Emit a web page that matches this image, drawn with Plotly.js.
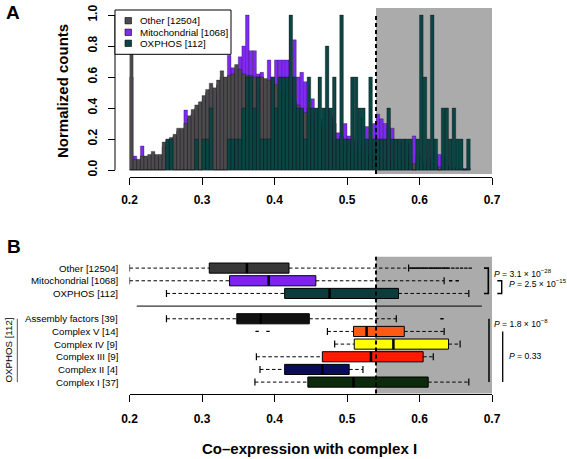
<!DOCTYPE html>
<html><head><meta charset="utf-8">
<script src="https://cdn.plot.ly/plotly-3.0.1.min.js"></script>
<style>html,body{margin:0;padding:0;background:#fff}#chart{width:567px;height:459px}</style>
</head><body><div id="chart"></div>
<script>
// ---------- Panel A data (normalized histogram counts, bins of 0.005 from 0.20) ----------
const binStart = 0.20, binWidth = 0.005;
const histNames = ['Other [12504]', 'Mitochondrial [1068]', 'OXPHOS [112]'];
const histColors = ['#4b4b4b', '#7f2af0', '#0d4444'];
const otherCounts = [1.00,0.07,0.07,0.09,0.09,0.10,0.12,0.10,0.10,0.18,
 0.19,0.21,0.23,0.27,0.27,0.30,0.35,0.39,0.42,0.44,
 0.48,0.52,0.56,0.53,0.58,0.64,0.60,0.61,0.62,0.68,
 0.65,0.62,0.61,0.61,0.60,0.60,0.60,0.59,0.58,0.57,
 0.55,0.53,0.50,0.49,0.46,0.44,0.42,0.39,0.37,0.35,
 0.31,0.29,0.27,0.26,0.24,0.22,0.20,0.19,0.17,0.15,
 0.15,0.13,0.12,0.11,0.10,0.10,0.09,0.08,0.08,0.07,
 0.07,0.06,0.06,0.05,0.05,0.05,0.04,0.04,0.04,0.03,
 0.03,0.03,0.02,0.02,0.02,0.02,0.01,0.01,0.01,0.01,
 0.01,0.005,0.005,0.003];
const mitoCounts = [0.60,0.09,0.05,0.155,0.07,0.08,0.10,0.09,0.08,0.15,
 0.16,0.20,0.22,0.25,0.26,0.387,0.33,0.36,0.40,0.42,
 0.45,0.50,0.52,0.50,0.55,0.60,0.58,0.74,0.66,0.65,
 0.73,0.80,1.00,0.77,0.77,0.62,0.63,0.57,0.71,0.60,
 0.71,0.71,0.71,0.71,0.60,0.84,0.60,0.63,0.57,0.40,
 0.46,0.38,0.30,0.33,0.40,0.35,0.30,0.24,0.22,0.30,
 0.22,0.20,0.18,0.34,0.19,0.28,0.16,0.30,0.36,0.33,
 0.30,0.27,0.27,0.19,0.19,0.18,0.17,0.10,0.22,0.10,
 0.05,0.05,0.08,0.04,0.04,0.10,0.09,0.03,0.02,0.02,
 0.01,0.01,0.01,0.01];
const oxphosCounts = [0,0,0,0,0,0,0,0,0,0,
 0.2,0.2,0,0,0,0,0,0,0.2,0,
 0.2,0.2,0.4,0,0,0,0,0.2,0.2,0.2,
 0.2,0.4,0.6,0.6,0.4,0.6,0.2,0.2,0.2,0.6,
 0.4,0.6,0.6,0.6,1.0,0.6,0.4,0.4,0.2,0.6,
 0.4,0.4,0.6,0.4,0.8,0.4,0.6,0.2,1.0,0.2,
 0.2,0.6,0.6,0.4,0.4,0.2,0.6,0.2,0.2,0.2,
 0.2,0.4,0.2,0.2,0.2,0.2,0.2,0.2,0,0.2,
 1.0,0.6,0.2,1.0,0.2,0,0.4,0.4,0.2,0.4,
 0.2,0.2,0,0.2];
const xTicks = [0.2, 0.3, 0.4, 0.5, 0.6, 0.7];
const yTicks = [0, 0.2, 0.4, 0.6, 0.8, 1.0];
const threshold = 0.54;

// ---------- Panel B data (box plot statistics) ----------
const boxLabels = ['Complex I [37]', 'Complex II [4]', 'Complex III [9]', 'Complex IV [9]', 'Complex V [14]',
                   'Assembly factors [39]', 'OXPHOS [112]', 'Mitochondrial [1068]', 'Other [12504]'];
const boxRows   = [1, 2, 3, 4, 5, 6, 8, 9, 10];
const boxColors = ['#0c2a0c', '#0b0b5c', '#ff1a00', '#ffff00', '#ff5a14', '#111111', '#0c3b3b', '#7f22f0', '#383838'];
const boxLow  = [0.373, 0.380, 0.375, 0.483, 0.473, 0.251, 0.251, 0.200, 0.200];
const boxQ1   = [0.446, 0.414, 0.466, 0.510, 0.509, 0.348, 0.414, 0.338, 0.310];
const boxMed  = [0.509, 0.466, 0.533, 0.564, 0.527, 0.381, 0.476, 0.392, 0.362];
const boxQ3   = [0.612, 0.503, 0.605, 0.640, 0.579, 0.448, 0.571, 0.457, 0.420];
const boxHigh = [0.668, 0.522, 0.619, 0.656, 0.634, 0.568, 0.668, 0.634, 0.585];
const outOther = [0.587,0.589,0.592,0.594,0.597,0.599,0.602,0.604,0.607,0.609,0.612,0.615,0.617,0.620,
                  0.622,0.625,0.627,0.630,0.633,0.635,0.638,0.640,0.646,0.652,0.658,0.664,0.670];
const outMito = [0.643, 0.652];
const outAssembly = [0.631];
const outComplexV = [0.376, 0.391];
const pTexts = ['<i>P</i> = 3.1 × 10<sup>−28</sup>', '<i>P</i> = 2.5 × 10<sup>−15</sup>',
                '<i>P</i> = 1.8 × 10<sup>−8</sup>', '<i>P</i> = 0.33'];

// ---------- helpers ----------
const W = 567, H = 459;
const X = p => p / W, Y = p => 1 - p / H;
const FONT = 'Liberation Sans, Arial, Helvetica, sans-serif';
const binCenters = otherCounts.map((_, i) => binStart + binWidth * (i + 0.5));

function histTrace(vals, color, name) {
  return {type: 'bar', x: binCenters, y: vals, width: binWidth, name: name,
    marker: {color: color, line: {color: 'rgba(0,0,0,0.55)', width: 0.5}},
    xaxis: 'x', yaxis: 'y', hoverinfo: 'skip', showlegend: false};
}
const traces = [
  histTrace(mitoCounts, histColors[1], histNames[1]),
  histTrace(otherCounts, histColors[0], histNames[0]),
  histTrace(oxphosCounts, histColors[2], histNames[2])
];

// whiskers, staples, medians
const wx = [], wy = [], sx = [], sy = [], mx = [], my = [];
boxRows.forEach((r, i) => {
  wx.push(boxLow[i], boxQ1[i], null, boxQ3[i], boxHigh[i], null);
  wy.push(r, r, null, r, r, null);
  sx.push(boxLow[i], boxHigh[i]); sy.push(r, r);
  mx.push(boxMed[i], boxMed[i], null); my.push(r - 0.4, r + 0.4, null);
});
traces.push({type: 'scatter', mode: 'lines', x: wx, y: wy, xaxis: 'x2', yaxis: 'y2',
  line: {color: '#000', width: 1, dash: '3.5px,2.5px'}, hoverinfo: 'skip', showlegend: false});
traces.push({type: 'scatter', mode: 'markers', x: sx, y: sy, xaxis: 'x2', yaxis: 'y2',
  marker: {symbol: 'line-ns-open', size: 5, color: '#000', line: {color: '#000', width: 1.2}}, hoverinfo: 'skip', showlegend: false});
traces.push({type: 'bar', orientation: 'h', y: boxRows, base: boxQ1,
  x: boxQ3.map((q, i) => q - boxQ1[i]), width: 0.8, xaxis: 'x2', yaxis: 'y2',
  marker: {color: boxColors, line: {color: '#000', width: 1}}, hoverinfo: 'skip', showlegend: false});
traces.push({type: 'scatter', mode: 'lines', x: mx, y: my, xaxis: 'x2', yaxis: 'y2',
  line: {color: '#000', width: 2.5}, hoverinfo: 'skip', showlegend: false});
const outGroups = [[outOther, 10], [outMito, 9], [outAssembly, 6], [outComplexV, 5]];
outGroups.forEach(([vals, row]) => {
  traces.push({type: 'scatter', mode: 'markers', x: vals, y: vals.map(() => row), xaxis: 'x2', yaxis: 'y2',
    marker: {symbol: 'line-ew-open', size: 2.4, color: '#000', line: {color: '#000', width: 1.3}}, hoverinfo: 'skip', showlegend: false});
});

const tickFont = {family: FONT, size: 12, weight: 'bold', color: '#000'};
const xDomain = [X(129.5), X(492)];

const shapes = [
  {type: 'rect', xref: 'x', yref: 'y domain', x0: threshold, x1: 0.7, y0: 0, y1: 1, fillcolor: '#ababab', line: {width: 0}, layer: 'below'},
  {type: 'rect', xref: 'x2', yref: 'y2 domain', x0: threshold, x1: 0.7, y0: 0, y1: 1, fillcolor: '#ababab', line: {width: 0}, layer: 'below'},
  {type: 'line', xref: 'x', yref: 'y', x0: threshold, x1: threshold, y0: -0.0258, y1: 1.0, line: {color: '#000', width: 2, dash: '4px,3px'}, layer: 'above'},
  {type: 'line', xref: 'x2', yref: 'y2 domain', x0: threshold, x1: threshold, y0: 0, y1: 1, line: {color: '#000', width: 2, dash: '4px,3px'}, layer: 'above'},
  // y axis line of panel A (spans 0..1 only)
  {type: 'line', xref: 'paper', yref: 'y', x0: X(115), x1: X(115), y0: 0, y1: 1, line: {color: '#000', width: 1}},
  // separator between groups
  {type: 'line', xref: 'x2', yref: 'y2', x0: 0.21, x1: 0.686, y0: 7, y1: 7, line: {color: '#000', width: 1}},
  // legend box
  {type: 'rect', xref: 'paper', yref: 'paper', x0: X(115), x1: X(231), y0: Y(54.3), y1: Y(10), fillcolor: '#fff', line: {color: '#000', width: 1}, layer: 'above'},
  // brackets / lines for P values
  {type: 'path', xref: 'paper', yref: 'y2', path: `M${X(484)},10 L${X(488.3)},10 L${X(488.3)},8 L${X(484)},8`, line: {color: '#000', width: 1.6}},
  {type: 'path', xref: 'paper', yref: 'y2', path: `M${X(497.3)},9 L${X(501.7)},9 L${X(501.7)},8 L${X(497.3)},8`, line: {color: '#000', width: 1.4}},
  {type: 'line', xref: 'paper', yref: 'y2', x0: X(489), x1: X(489), y0: 6, y1: 1, line: {color: '#000', width: 1.5}},
  {type: 'line', xref: 'paper', yref: 'y2', x0: X(502.7), x1: X(502.7), y0: 5, y1: 1, line: {color: '#000', width: 1.3}},
  // OXPHOS group line on the left
  {type: 'line', xref: 'paper', yref: 'y2', x0: X(17.3), x1: X(17.3), y0: 6, y1: 1, line: {color: '#555', width: 1}}
];
// legend squares
const legendRows = [20.7, 32.3, 43.3];
legendRows.forEach((ry, i) => {
  shapes.push({type: 'rect', xref: 'paper', yref: 'paper', x0: X(125), x1: X(131.5), y0: Y(ry + 3.2), y1: Y(ry - 3.2),
    fillcolor: histColors[i], line: {color: '#000', width: 0.6}, layer: 'above'});
});

const ann = (text, x, y, opts) => Object.assign({text: text, x: X(x), y: Y(y), xref: 'paper', yref: 'paper',
  xanchor: 'center', yanchor: 'middle', showarrow: false, borderpad: 0,
  font: {family: FONT, size: 9.8, color: '#000'}}, opts || {});
const bold = s => ({family: FONT, size: s, weight: 'bold', color: '#000'});
const pf = {family: FONT, size: 8.6, color: '#000'};
const annotations = [
  ann('A', 13, 12.5, {font: bold(19)}),
  ann('B', 13.5, 246, {font: bold(19)}),
  ann('Normalized counts', 62, 91, {textangle: -90, font: bold(15)}),
  ann('Co–expression with complex I', 309.5, 448, {font: bold(15)}),
  ann('OXPHOS [112]', 7.5, 350, {textangle: -90, font: {family: FONT, size: 9.7, color: '#000'}}),
  ann(pTexts[0], 492.5, 273, {xanchor: 'left', font: pf}),
  ann(pTexts[1], 507.5, 283.5, {xanchor: 'left', font: pf}),
  ann(pTexts[2], 492.5, 323.5, {xanchor: 'left', font: pf}),
  ann(pTexts[3], 507.5, 355.7, {xanchor: 'left', font: pf})
];
histNames.forEach((n, i) => annotations.push(ann(n, 139.3, legendRows[i], {xanchor: 'left'})));
boxLabels.forEach((lab, i) => annotations.push({text: lab, x: X(118.5), xref: 'paper', xanchor: 'right',
  y: boxRows[i], yref: 'y2', yanchor: 'middle', showarrow: false, borderpad: 0,
  font: {family: FONT, size: 9.7, color: '#000'}}));

const layout = {
  width: W, height: H, margin: {l: 0, r: 0, t: 0, b: 0, pad: 0},
  paper_bgcolor: '#fff', plot_bgcolor: '#fff', barmode: 'overlay', showlegend: false,
  font: {family: FONT, color: '#000'},
  xaxis: {domain: xDomain, range: [0.2, 0.7], anchor: 'free', position: Y(177),
    showline: true, linecolor: '#000', linewidth: 1, ticks: 'outside', ticklen: 7, tickwidth: 1, tickcolor: '#000',
    tickvals: xTicks, tickformat: '.1f', tickfont: tickFont, ticklabelstandoff: 5, showgrid: false, zeroline: false},
  yaxis: {domain: [Y(174), Y(8)], range: [-0.0258, 1.0452], anchor: 'free', position: X(115),
    showline: false, ticks: 'outside', ticklen: 7, tickwidth: 1, tickcolor: '#000',
    tickvals: yTicks, tickformat: '.1f', tickangle: -90, tickfont: tickFont, ticklabelstandoff: 6,
    showgrid: false, zeroline: false},
  xaxis2: {domain: xDomain, range: [0.2, 0.7], anchor: 'y2',
    showline: true, linecolor: '#000', linewidth: 1, ticks: 'outside', ticklen: 7, tickwidth: 1, tickcolor: '#000',
    tickvals: xTicks, tickformat: '.1f', tickfont: tickFont, ticklabelstandoff: 7, showgrid: false, zeroline: false},
  yaxis2: {domain: [Y(393.5), Y(256.7)], range: [0.1, 10.9], anchor: 'x2', visible: false},
  shapes: shapes, annotations: annotations
};
Plotly.newPlot('chart', traces, layout, {staticPlot: true, displayModeBar: false});
</script></body></html>
